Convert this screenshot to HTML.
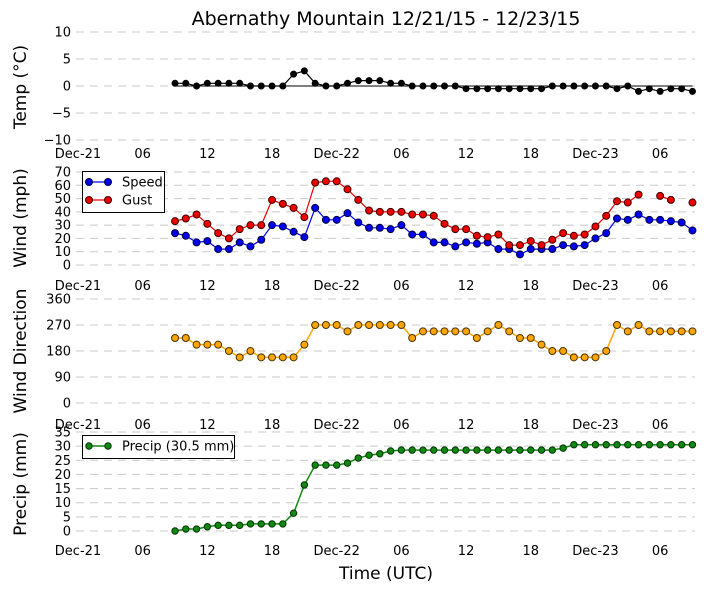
<!DOCTYPE html>
<html><head><meta charset="utf-8"><style>
body{margin:0;background:#fff;}
svg{display:block;font-family:"DejaVu Sans","Liberation Sans",sans-serif;}
</style></head><body>
<svg id="chart" width="705" height="593" viewBox="0 0 705 593" xmlns="http://www.w3.org/2000/svg">
<text x="386" y="25" font-size="19" text-anchor="middle">Abernathy Mountain 12/21/15 - 12/23/15</text>
<text x="386" y="579" font-size="17" text-anchor="middle">Time (UTC)</text>
</svg>
<script>
const hours = [9,10,11,12,13,14,15,16,17,18,19,20,21,22,23,24,25,26,27,28,29,30,31,32,33,34,35,36,37,38,39,40,41,42,43,44,45,46,47,48,49,50,51,52,53,54,55,56,57];
const temp = [0.5,0.5,0,0.5,0.5,0.5,0.5,0,0,0,0,2.2,2.8,0.5,0,0,0.5,1,1,1,0.5,0.5,0,0,0,0,0,-0.5,-0.5,-0.5,-0.5,-0.5,-0.5,-0.5,-0.5,0,0,0,0,0,0,-0.5,0,-1,-0.5,-1,-0.5,-0.5,-1];
const speed = [24,22,17,18,12,12,17,14,19,30,29,25,21,43,34,34,39,32,28,28,27,30,23,23,17,17,14,17,16,17,12,12,8,12,12,12,15,14,15,20,24,35,34,38,34,34,33,32,26];
const gust = [33,35,38,31,24,20,27,30,30,49,46,43,36,62,63,63,57,49,41,40,40,40,38,38,37,31,27,27,22,21,23,15,15,18,15,19,24,22,23,29,37,48,47,53,null,52,49,null,47];
const direction = [225,225,202,202,202,180,158,180,158,158,158,158,202,270,270,270,248,270,270,270,270,270,225,248,248,248,248,248,225,248,270,248,225,225,202,180,180,158,158,158,180,270,248,270,248,248,248,248,248];
const precip = [0,0.7,0.7,1.5,2,2,2,2.5,2.5,2.5,2.5,6.3,16.3,23.3,23.3,23.3,24,25.8,26.8,27.3,28.3,28.6,28.6,28.6,28.6,28.6,28.6,28.6,28.6,28.6,28.6,28.6,28.6,28.6,28.6,28.6,29.3,30.5,30.5,30.5,30.5,30.5,30.5,30.5,30.5,30.5,30.5,30.5,30.5];
const xTickHours = [0,6,12,18,24,30,36,42,48,54];
const xTickLabels = ["Dec-21","06","12","18","Dec-22","06","12","18","Dec-23","06"];
const tempTicks = [10,5,0,-5,-10];
const windTicks = [70,60,50,40,30,20,10,0];
const dirTicks = [360,270,180,90,0];
const precipTicks = [35,30,25,20,15,10,5,0];

const svg = document.getElementById('chart');
const NS = 'http://www.w3.org/2000/svg';
function mk(tag, attrs, parent){const e=document.createElementNS(NS,tag);for(const k in attrs)e.setAttribute(k,attrs[k]);(parent||svg).appendChild(e);return e;}
const xScale = h => 78 + h*10.78;
const X0 = 76, X1 = 695;

function panel(name, ticks, vTop, vBot, yTop, yBot, xlabY, ylabel, ylabY){
  const g = mk('g',{});
  
  
  const ys = v => yTop + (vTop - v)/(vTop - vBot)*(yBot - yTop);
  ticks.forEach(t=>{
    const gl = mk('line',{x1:X0,x2:X1,y1:ys(t),y2:ys(t),stroke:'#c8c8c8','stroke-width':1,'stroke-dasharray':'8,6'},g);
    
    
    const tl = mk('text',{x:71,y:ys(t)+4.5,'font-size':13,'text-anchor':'end'},g);
    tl.textContent = String(t).replace('-', '\u2212');
    
    
  });
  xTickHours.forEach((h,i)=>{
    const xl = mk('text',{x:xScale(h),y:xlabY,'font-size':13,'text-anchor':'middle'},g);
    xl.textContent = xTickLabels[i];
    
    
  });
  const yl = mk('text',{x:0,y:0,'font-size':17,'text-anchor':'middle',transform:'translate(26,'+ylabY+') rotate(-90)'},g);
  yl.textContent = ylabel;
  
  
  return {g, ys};
}

function series(p, name, vals, color, edge, r, lw){
  let d='', pen=false;
  vals.forEach((v,i)=>{
    if(v===null){pen=false;return;}
    d += (pen?'L':'M')+xScale(hours[i]).toFixed(1)+','+p.ys(v).toFixed(1);
    pen=true;
  });
  const path = mk('path',{d:d,fill:'none',stroke:color,'stroke-width':lw},p.g);
  
  
  vals.forEach((v,i)=>{
    if(v===null)return;
    const c = mk('circle',{cx:xScale(hours[i]),cy:p.ys(v),r:r,fill:color,stroke:edge,'stroke-width':1},p.g);
    
    
  });
}

const p1 = panel('temp', tempTicks, 10, -10, 32, 140, 158, 'Temp (°C)', 87);
const zl = mk('line',{x1:xScale(hours[0]),x2:xScale(hours[hours.length-1]),y1:p1.ys(0),y2:p1.ys(0),stroke:'#000','stroke-width':1},p1.g);


series(p1,'temp',temp,'#000','#000',3,1.2);

const p2 = panel('wind', windTicks, 70, 0, 172, 265, 290, 'Wind (mph)', 218);
series(p2,'speed',speed,'#0000ee','#000040',3.5,1.2);
series(p2,'gust',gust,'#ee0000','#400000',3.5,1.2);
const lg = mk('g',{},p2.g);


mk('rect',{x:82.5,y:171.5,width:82,height:41,fill:'#fff',stroke:'#000','stroke-width':1},lg);
[['Speed','#0000ee','#000040',182],['Gust','#ee0000','#400000',200]].forEach(e=>{
  const eg = mk('g',{},lg);
  
  
  mk('line',{x1:89,x2:108,y1:e[3],y2:e[3],stroke:e[1],'stroke-width':1.2},eg);
  mk('circle',{cx:89,cy:e[3],r:3.5,fill:e[1],stroke:e[2]},eg);
  mk('circle',{cx:108,cy:e[3],r:3.5,fill:e[1],stroke:e[2]},eg);
  const t = mk('text',{x:122,y:e[3]+4.5,'font-size':13},eg);
  t.textContent = e[0];
});

const p3 = panel('direction', dirTicks, 360, 0, 299, 403, 429, 'Wind Direction', 351);
series(p3,'direction',direction,'#ffa500','#4a3300',3.5,1.5);

const p4 = panel('precip', precipTicks, 35, 0, 432, 531, 555, 'Precip (mm)', 484);
series(p4,'precip',precip,'#118811','#003300',3.2,1.5);
const lp = mk('g',{},p4.g);


mk('rect',{x:82.5,y:435.5,width:152,height:23,fill:'#fff',stroke:'#000','stroke-width':1},lp);
mk('line',{x1:89,x2:108,y1:446,y2:446,stroke:'#118811','stroke-width':1.5},lp);
mk('circle',{cx:89,cy:446,r:3.2,fill:'#118811',stroke:'#003300'},lp);
mk('circle',{cx:108,cy:446,r:3.2,fill:'#118811',stroke:'#003300'},lp);
const pt = mk('text',{x:122,y:450.5,'font-size':13},lp);
pt.textContent = 'Precip (30.5 mm)';
</script>
</body></html>
